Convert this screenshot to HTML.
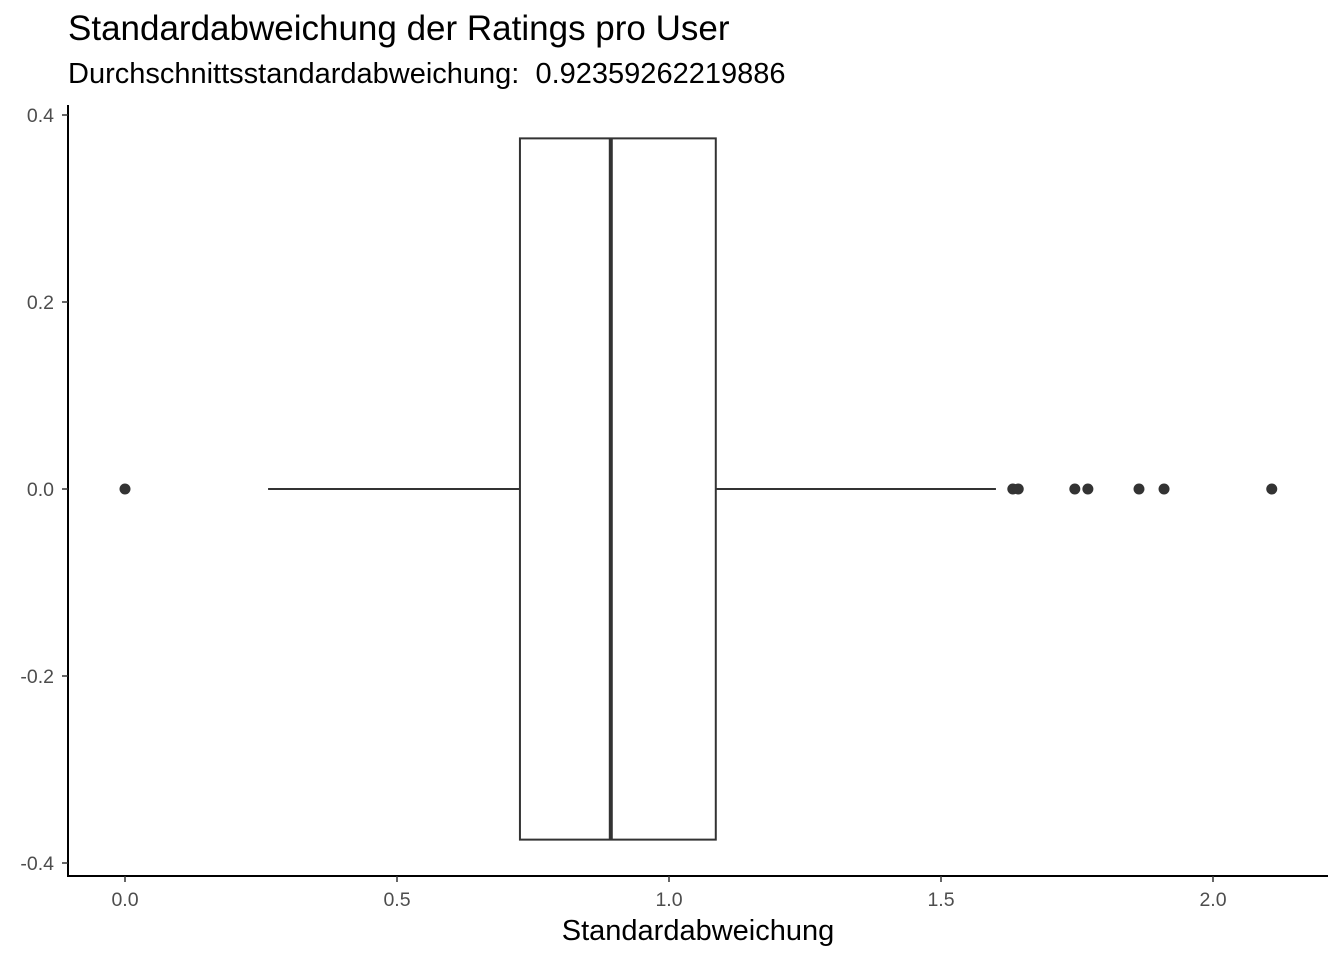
<!DOCTYPE html>
<html><head><meta charset="utf-8"><style>
body{margin:0;background:#fff;}
svg{display:block;font-family:"Liberation Sans",Arial,sans-serif;}
</style></head><body>
<svg id="chart" width="1344" height="960">
<text x="68" y="40" font-size="35" fill="#000">Standardabweichung der Ratings pro User</text>
<text x="68" y="83" font-size="29" fill="#000" xml:space="preserve">Durchschnittsstandardabweichung:  0.92359262219886</text>
<g id="axes"></g>
<g id="marks"></g>
<text x="698" y="940" font-size="29" text-anchor="middle" fill="#000">Standardabweichung</text>
</svg>
<script>
const xTicks=[0,0.5,1.0,1.5,2.0];
const xTickLabels=["0.0","0.5","1.0","1.5","2.0"];
const yTicks=[0.4,0.2,0,-0.2,-0.4];
const yTickLabels=["0.4","0.2","0.0","-0.2","-0.4"];
const boxStats=[0.263,0.726,0.893,1.086,1.601]; // whiskerLow,q1,median,q3,whiskerHigh
const boxHalfWidth=[0.375];
const outliers=[0,1.632,1.642,1.746,1.770,1.864,1.910,2.108];
const NS="http://www.w3.org/2000/svg";
const sx=v=>125+v*544;
const sy=v=>489-v*935;
function mk(tag,attrs,parent){const e=document.createElementNS(NS,tag);for(const k in attrs)e.setAttribute(k,attrs[k]);parent.appendChild(e);return e;}
const axes=document.getElementById('axes'),marks=document.getElementById('marks');
let e=mk('line',{x1:68,y1:105,x2:68,y2:877,stroke:'#000','stroke-width':2},axes);


e=mk('line',{x1:67,y1:876,x2:1328,y2:876,stroke:'#000','stroke-width':2},axes);


xTicks.forEach((t,i)=>{
 mk('line',{x1:sx(t),y1:876,x2:sx(t),y2:882,stroke:'#333','stroke-width':1.5},axes);
 const tx=mk('text',{x:sx(t),y:906,'font-size':19.5,fill:'#4d4d4d','text-anchor':'middle'},axes);
 tx.textContent=xTickLabels[i];
 
 
});
yTicks.forEach((t,i)=>{
 mk('line',{x1:62,y1:sy(t),x2:68,y2:sy(t),stroke:'#333','stroke-width':1.5},axes);
 const tx=mk('text',{x:54,y:sy(t)+7,'font-size':19.5,fill:'#4d4d4d','text-anchor':'end'},axes);
 tx.textContent=yTickLabels[i];
 
 
});
const [wl,q1,md,q3,wh]=boxStats,h=boxHalfWidth[0];
e=mk('line',{x1:sx(wl),y1:sy(0),x2:sx(q1),y2:sy(0),stroke:'#333','stroke-width':2},marks);


e=mk('line',{x1:sx(q3),y1:sy(0),x2:sx(wh),y2:sy(0),stroke:'#333','stroke-width':2},marks);


e=mk('rect',{x:sx(q1),y:sy(h),width:sx(q3)-sx(q1),height:sy(-h)-sy(h),fill:'#fff',stroke:'#333','stroke-width':2},marks);


e=mk('line',{x1:sx(md),y1:sy(h),x2:sx(md),y2:sy(-h),stroke:'#333','stroke-width':4},marks);


outliers.forEach(v=>{
 const c=mk('circle',{cx:sx(v),cy:sy(0),r:5.5,fill:'#333'},marks);
 
 
});
</script>
</body></html>
